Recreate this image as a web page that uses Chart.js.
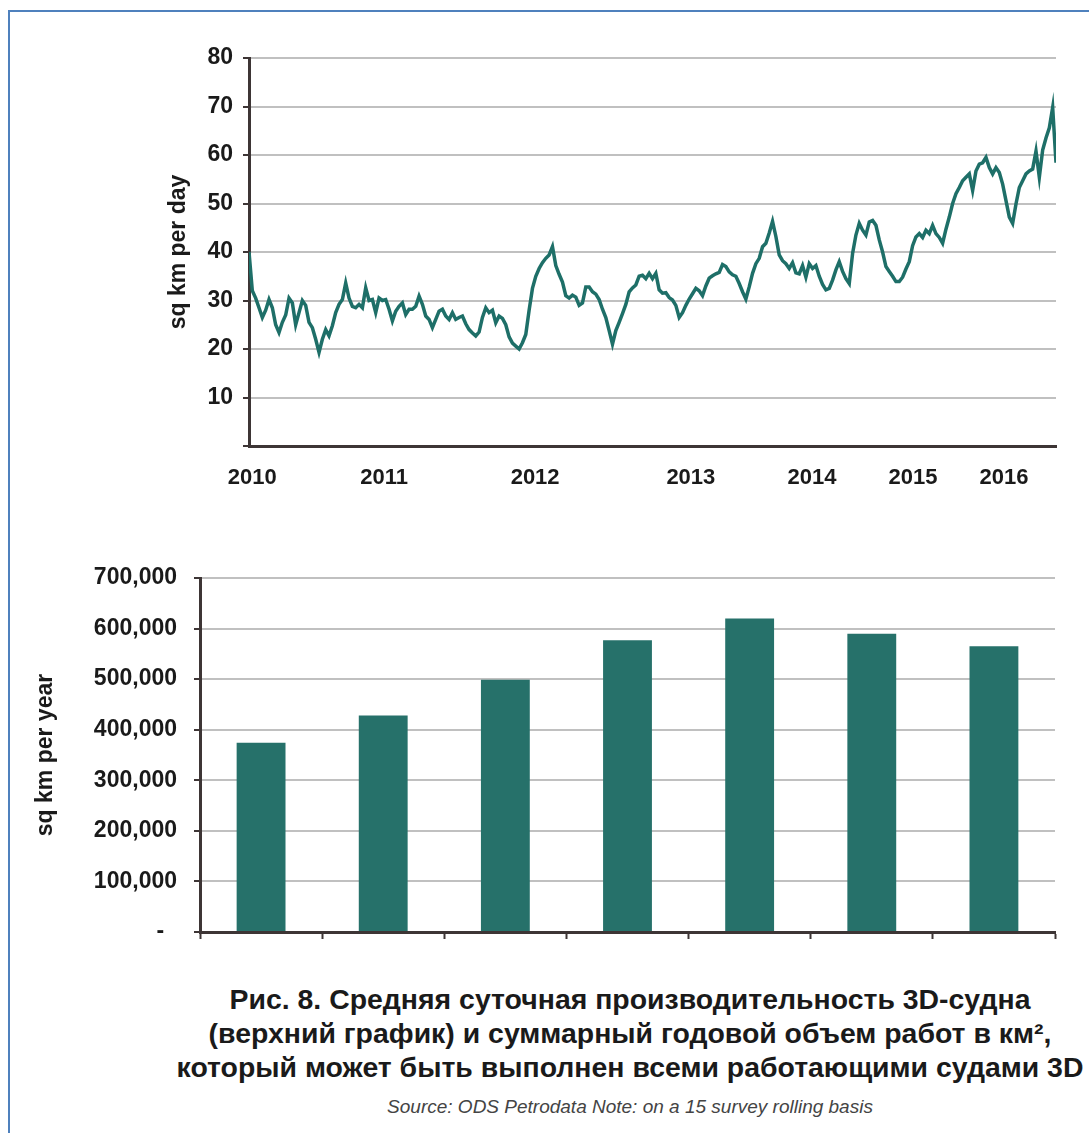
<!DOCTYPE html>
<html><head><meta charset="utf-8">
<script src="https://cdn.jsdelivr.net/npm/chart.js@4/dist/chart.umd.min.js"></script>
<style>
html,body{margin:0;padding:0;background:#fff;overflow:hidden;width:1089px;height:1133px;}
#frame{position:absolute;left:8px;top:10px;width:1200px;height:1200px;border-left:2px solid #4f81bd;border-top:2px solid #4f81bd;}
canvas{position:absolute;left:0;}
#c1{top:0;}
#c2{top:520px;}
.cap{position:absolute;left:0;width:1260px;text-align:center;font-family:'Liberation Sans',Arial,sans-serif;font-weight:bold;font-size:28px;color:#1a1a1a;white-space:nowrap;transform-origin:629px 0;transform:scaleX(1.015);}
#src{position:absolute;left:0;width:1260px;top:1096px;text-align:center;font-family:'Liberation Sans',Arial,sans-serif;font-style:italic;font-size:19px;color:#444;white-space:nowrap;transform-origin:627px 0;}
</style></head>
<body>
<div id="frame"></div>
<canvas id="c1" width="1089" height="510"></canvas>
<canvas id="c2" width="1089" height="460"></canvas>
<div class="cap" style="top:984px">Рис. 8. Средняя суточная производительность 3D-судна</div>
<div class="cap" style="top:1018px">(верхний график) и суммарный годовой объем работ в км², </div>
<div class="cap" style="top:1052px">который может быть выполнен всеми работающими судами 3D</div>
<div id="src">Source: ODS Petrodata Note: on a 15 survey rolling basis</div>
<script>
// Daily productivity (sq km per day), survey-by-survey rolling average
const lineValues = [
40, 32, 30.5, 28.5, 26.5, 28, 30.2, 28.5, 25, 23.4,
25.5, 27, 30.5, 29.5, 25, 27.5, 30, 29, 25.5, 24.4,
22, 19.3, 22, 24, 22.7, 24.8, 27.5, 29.2, 30.2, 33.6,
30.5, 28.8, 28.5, 29.2, 28.5, 32.6, 30, 30.2, 27.5, 30.5,
30, 30.2, 28.2, 25.8, 27.8, 28.8, 29.5, 27.1, 28.2, 28.2,
28.8, 30.9, 29.2, 26.8, 26.1, 24.4, 26.1, 27.8, 28.2, 26.8,
26.1, 27.5, 26.1, 26.5, 26.8, 25.2, 24, 23.3, 22.7, 23.5,
26.5, 28.5, 27.5, 28, 25.4, 26.8, 26.3, 25, 22.5, 21.2,
20.6, 20, 21.3, 23, 28, 32.5, 35, 36.6, 37.8, 38.7,
39.4, 41.1, 37.2, 35.4, 33.8, 31, 30.5, 31.1, 30.7, 29,
29.5, 32.8, 32.8, 31.8, 31.3, 30.2, 28.2, 26.5, 23.8, 21,
23.8, 25.5, 27.3, 29.2, 31.8, 32.6, 33.2, 35, 35.2, 34.5,
35.6, 34.5, 35.6, 32.2, 31.5, 31.6, 30.6, 30.1, 29, 26.5,
27.5, 29, 30.3, 31.4, 32.5, 32, 31, 33, 34.6, 35.1,
35.5, 35.8, 37.4, 37, 35.9, 35.3, 35, 33.5, 31.8, 30.3,
32.8, 35.6, 37.6, 38.7, 41.1, 41.8, 43.9, 46.3, 43.2, 39.4,
38.2, 37.6, 36.6, 37.8, 35.7, 35.5, 37.2, 34.8, 37.6, 36.6,
37.2, 35, 33.3, 32.2, 32.5, 34.2, 36.3, 38, 36, 34.5,
33.5, 39.7, 43.5, 45.9, 44.5, 43.5, 46.2, 46.5, 45.5, 42.5,
40, 37, 36, 35, 33.9, 33.9, 34.8, 36.5, 38, 41.3,
43.1, 43.8, 43, 44.5, 43.8, 45.5, 43.8, 43, 41.8, 44.7,
47.2, 50, 52, 53.3, 54.7, 55.4, 56.1, 52.7, 56.7, 58.1,
58.4, 59.5, 57.4, 56.1, 57.4, 56.4, 54, 50.6, 47.2, 45.9,
49.9, 53.3, 54.7, 56.1, 56.7, 57.1, 60.8, 55.4, 61, 63.5,
65.6, 69.8, 58.4
];
// Year labels of the top chart and the survey index where each one sits
const xTickLabels = ['2010','2011','2012','2013','2014','2015','2016'];
const xTickSurvey = [1, 40.5, 85.8, 132.5, 168.8, 199.1, 226.4];
// Annual total (sq km per year)
const barYears = ['2010','2011','2012','2013','2014','2015','2016'];
const barValues = [374000, 428000, 499000, 577000, 620000, 590000, 565000];

Chart.defaults.font.family = "'Liberation Sans', Arial, sans-serif";
const AXIS = '#3d3535', GRID = '#c0c0c0', TXT = '#1a1a1a';

new Chart(document.getElementById('c1'), {
  type: 'line',
  data: { datasets: [{ data: lineValues.map((v, i) => ({ x: i, y: v })), borderColor: '#1e6f68', borderWidth: 3.5, pointRadius: 0, tension: 0, fill: false }] },
  options: {
    responsive: false, animation: false,
    layout: { padding: { left: 161, top: 58, right: 33, bottom: 0 } },
    plugins: { legend: { display: false }, tooltip: { enabled: false } },
    scales: {
      x: {
        type: 'linear', min: 0, max: lineValues.length - 1,
        afterBuildTicks: s => { s.ticks = xTickSurvey.map(v => ({ value: v })); },
        afterFit: s => { s.height = 64; },
        grid: { display: false },
        border: { display: true, color: AXIS, width: 3 },
        ticks: { autoSkip: false, maxRotation: 0, padding: 11, color: TXT, font: { size: 22, weight: 'bold' }, callback: (v, i) => xTickLabels[i] }
      },
      y: {
        min: 0, max: 80,
        afterFit: s => { s.width = 88; },
        ticks: { stepSize: 10, padding: 10, color: TXT, font: { size: 23, weight: 'bold' }, callback: v => v === 0 ? '' : v },
        grid: { color: GRID, lineWidth: 2, tickColor: AXIS, tickLength: 6, tickWidth: 2 },
        border: { color: AXIS, width: 3 },
        title: { display: true, text: 'sq km per day', color: TXT, font: { size: 23, weight: 'bold' } }
      }
    }
  }
});

new Chart(document.getElementById('c2'), {
  type: 'bar',
  data: { labels: barYears, datasets: [{ data: barValues, backgroundColor: '#26716a', barPercentage: 0.4, categoryPercentage: 1 }] },
  options: {
    responsive: false, animation: false,
    layout: { padding: { left: 28, top: 58, right: 34, bottom: 0 } },
    plugins: { legend: { display: false }, tooltip: { enabled: false } },
    scales: {
      x: {
        afterFit: s => { s.height = 48; },
        grid: { drawOnChartArea: false, drawTicks: true, tickLength: 7, tickColor: AXIS, tickWidth: 2, offset: true },
        border: { color: AXIS, width: 3 },
        ticks: { display: false }
      },
      y: {
        min: 0, max: 700000,
        afterFit: s => { s.width = 172; },
        ticks: { stepSize: 100000, padding: 17, color: TXT, font: { size: 23, weight: 'bold' }, callback: v => v === 0 ? '-  ' : v.toLocaleString('en-US') },
        grid: { color: GRID, lineWidth: 2, tickColor: AXIS, tickLength: 6, tickWidth: 2 },
        border: { color: AXIS, width: 3 },
        title: { display: true, text: 'sq km per year', color: TXT, font: { size: 23, weight: 'bold' } }
      }
    }
  }
});
</script>
</body></html>
